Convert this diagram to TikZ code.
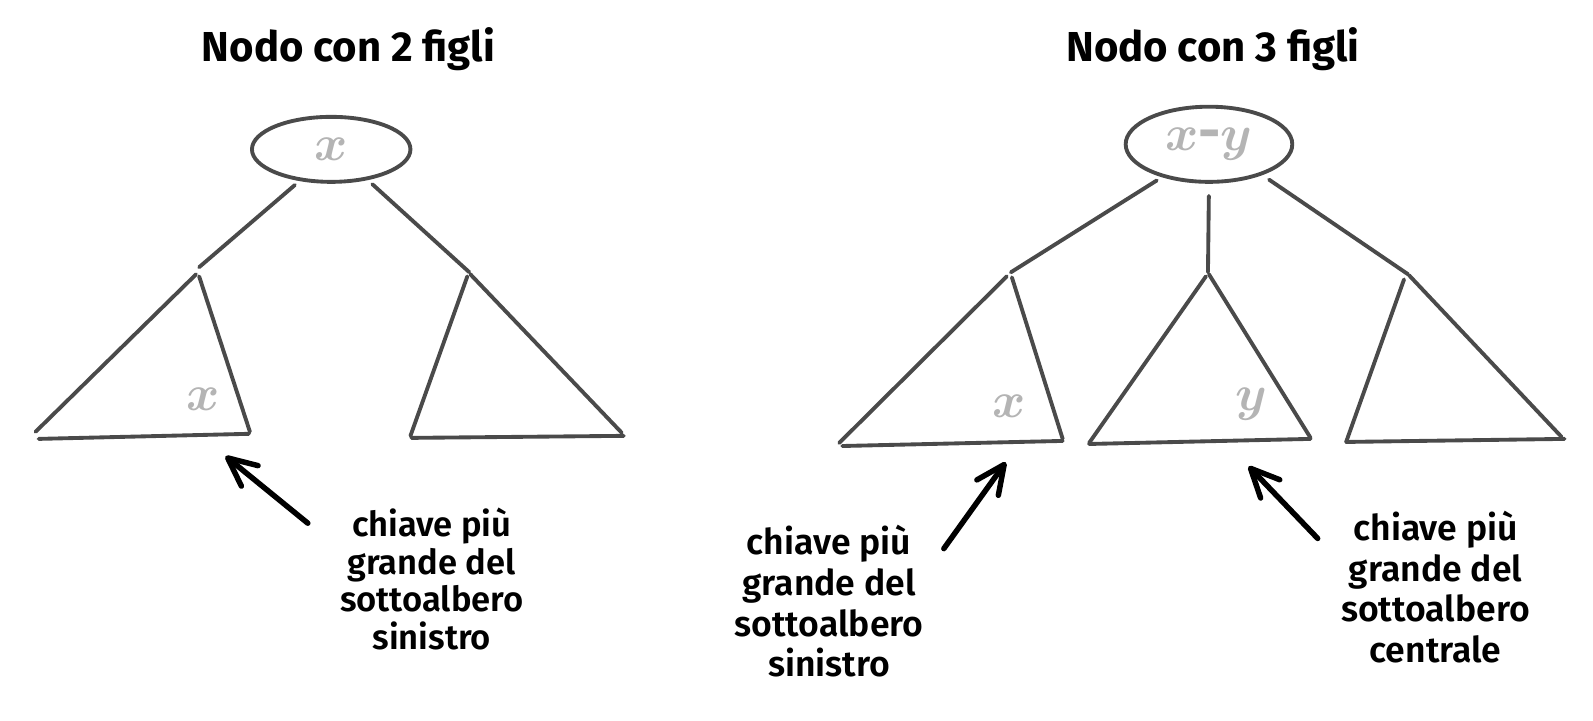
\documentclass[tikz,border=0pt]{standalone}
\usepackage{amsmath}
\usepackage{bm}
\usepackage{fontspec}
\setmainfont{Fira Sans}
\newfontfamily\bodyfont{Fira Sans SemiBold}
\usetikzlibrary{arrows.meta,shapes.geometric}
\definecolor{edgec}{HTML}{4A4A4A}
\definecolor{keyc}{HTML}{B4B4B4}
\begin{document}
\begin{tikzpicture}[x=0.5pt,y=-0.5pt,
  branch/.style={draw=edgec,line width=1.9pt,line cap=round},
  keynode/.style={ellipse,draw=edgec,line width=1.9pt,inner sep=0pt,text=keyc,font=\fontsize{27}{27}\selectfont},
  keytxt/.style={text=keyc,font=\fontsize{27}{27}\selectfont,inner sep=0pt},
  heading/.style={font=\bfseries\fontsize{20.6}{24}\selectfont},
  notea/.style={align=center,font=\bodyfont\fontsize{17}{18.5}\selectfont},
  noteb/.style={align=center,font=\bodyfont\fontsize{17.5}{20}\selectfont},
  pointer/.style={draw=black,line width=2.7pt,line cap=round,-{Straight Barb[length=14pt,width=13pt,round]}}]
\useasboundingbox (0,0) rectangle (1568,709);

% titles
\node[heading] (t1) at (343,48) {Nodo con 2 figli};
\node[heading] (t2) at (1194,48) {Nodo con 3 figli};

% ---------- left tree ----------
\node[keynode,minimum width=78pt,minimum height=32pt] (e1) at (326,147) {$\bm{x}$};
\coordinate (A1) at (196,263);
\coordinate (B1) at (462,268);
\draw[branch,shorten <=3pt] (e1.225) -- (A1);
\draw[branch,shorten <=3pt] (e1.-40) -- (B1);
% left subtree
\draw[branch] (193,270) -- (35,425);
\draw[branch] (196,272) -- (246,425);
\draw[branch] (38,432) -- (245,427);
\node[keytxt] (x1) at (200,393) {$\bm{x}$};
% right subtree
\draw[branch] (460,272) -- (404,429);
\draw[branch] (463,270) -- (612,426);
\draw[branch] (405,431) -- (614,429);
% pointer
\coordinate (p1s) at (303,515);
\coordinate (p1e) at (222,449);
\draw[pointer] (p1s) -- (p1e);
\node[notea] (n1) at (425,570) {chiave più\\grande del\\sottoalbero\\sinistro};

% ---------- right tree ----------
\node[keynode,minimum width=82pt,minimum height=37pt] (e2) at (1190,142) {$\bm{x}$\textbf{-}$\bm{y}$};
\coordinate (A2) at (995,268);
\coordinate (B2) at (1189,268);
\coordinate (C2) at (1386,270);
\draw[branch,shorten <=3pt] (e2.215) -- (A2);
\draw[branch,shorten <=6pt] (e2.south) -- (B2);
\draw[branch,shorten <=4pt] (e2.-30) -- (C2);
% left subtree
\draw[branch] (991,272) -- (826,436);
\draw[branch] (996,273) -- (1046,432);
\draw[branch] (829,439) -- (1046,434);
\node[keytxt] (x2) at (993,400) {$\bm{x}$};
% middle subtree
\draw[branch] (1187,272) -- (1072,436);
\draw[branch] (1190,270) -- (1290,431);
\draw[branch] (1072,437) -- (1290,432);
\node[keytxt] (y2) at (1232,398) {$\bm{y}$};
% right subtree
\draw[branch] (1382,275) -- (1325,435);
\draw[branch] (1387,271) -- (1537,430);
\draw[branch] (1325,435) -- (1540,432);
% pointers
\coordinate (p2s) at (929,540);
\coordinate (p2e) at (990,455);
\draw[pointer] (p2s) -- (p2e);
\coordinate (p3s) at (1297,530);
\coordinate (p3e) at (1229,459);
\draw[pointer] (p3s) -- (p3e);
\node[noteb] (n2) at (816,592) {chiave più\\grande del\\sottoalbero\\sinistro};
\node[noteb] (n3) at (1413,578) {chiave più\\grande del\\sottoalbero\\centrale};
\end{tikzpicture}
\end{document}
